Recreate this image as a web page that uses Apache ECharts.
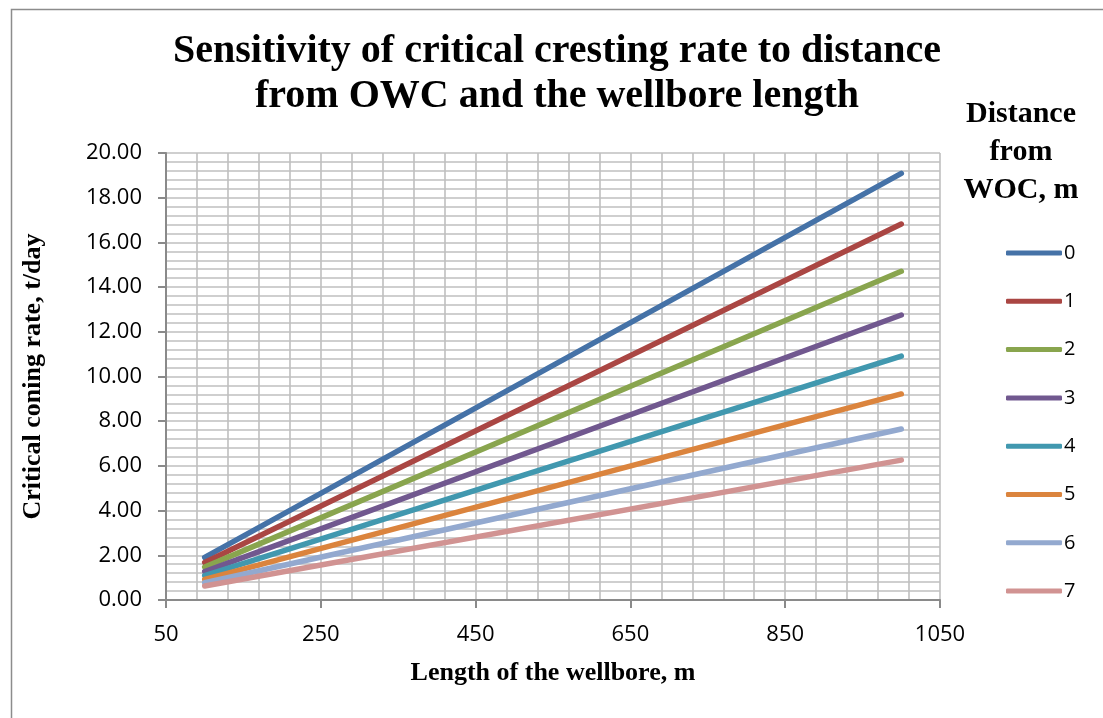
<!DOCTYPE html>
<html>
<head>
<meta charset="utf-8">
<script src="https://cdn.jsdelivr.net/npm/echarts@6/dist/echarts.min.js"></script>
<style>
  html, body { margin: 0; padding: 0; background: #ffffff; }
  #chart { width: 1103px; height: 718px; }
</style>
</head>
<body>
<div id="chart"></div>
<script>
// Wellbore length (m) at the start and end of each computed line
const wellboreLength = [100, 1000];

// Distance from WOC (m) — one series per distance
const distanceNames = ['0', '1', '2', '3', '4', '5', '6', '7'];

// Critical coning rate (t/day) for each distance, at the lengths above
const rateD0 = [1.91, 19.09];
const rateD1 = [1.68, 16.82];
const rateD2 = [1.47, 14.71];
const rateD3 = [1.27, 12.75];
const rateD4 = [1.09, 10.91];
const rateD5 = [0.92, 9.22];
const rateD6 = [0.77, 7.65];
const rateD7 = [0.63, 6.26];

const rateSeries = [rateD0, rateD1, rateD2, rateD3, rateD4, rateD5, rateD6, rateD7];

const lineColors = ['#4572A7', '#AA4643', '#89A54E', '#71588F', '#4198AF', '#DB843D', '#93A9CF', '#D19392'];

const serifFont = '"Liberation Serif", "Times New Roman", serif';
const sansFont = '"Open Sans", "Noto Sans", sans-serif';
const gridColor = '#bfbfbf';
const axisColor = '#8a8a8a';

const chart = echarts.init(document.getElementById('chart'), null, { renderer: 'canvas' });

const series = rateSeries.map((vals, i) => ({
  name: distanceNames[i],
  type: 'line',
  symbol: 'none',
  showSymbol: false,
  color: lineColors[i],
  lineStyle: { width: 5.5, color: lineColors[i], cap: 'round', join: 'round' },
  data: wellboreLength.map((x, j) => [x, vals[j]]),
  z: 3
}));

chart.setOption({
  backgroundColor: '#ffffff',
  animation: false,
  title: [
    {
      text: 'Sensitivity of critical cresting rate to distance\nfrom OWC and the wellbore length',
      left: 557,
      top: 29,
      padding: 0,
      textAlign: 'center',
      textStyle: { fontFamily: serifFont, fontWeight: 'bold', fontSize: 40, lineHeight: 45, color: '#000000' }
    },
    {
      text: 'Distance\nfrom\nWOC, m',
      left: 1021,
      top: 95,
      padding: 0,
      textAlign: 'center',
      textStyle: { fontFamily: serifFont, fontWeight: 'bold', fontSize: 30, lineHeight: 38, color: '#000000' }
    }
  ],
  legend: {
    orient: 'vertical',
    left: 1006,
    top: 243,
    padding: 0,
    icon: 'roundRect',
    itemWidth: 56,
    itemHeight: 5,
    itemGap: 28.3,
    data: distanceNames,
    textStyle: { fontFamily: sansFont, fontSize: 20, lineHeight: 20, color: '#000000', padding: [0, 0, 0, -3] }
  },
  grid: { left: 166, right: 163, top: 153, bottom: 118 },
  xAxis: {
    type: 'value',
    min: 50,
    max: 1050,
    interval: 200,
    name: 'Length of the wellbore, m',
    nameLocation: 'middle',
    nameGap: 60,
    nameTextStyle: { fontFamily: serifFont, fontWeight: 'bold', fontSize: 26, color: '#000000' },
    axisLine: { show: true, lineStyle: { color: axisColor, width: 2 } },
    axisTick: { show: true, length: 8, lineStyle: { color: axisColor, width: 2 } },
    axisLabel: { margin: 24, fontFamily: sansFont, fontSize: 22, color: '#000000', formatter: v => String(v) },
    splitLine: { show: true, lineStyle: { color: gridColor, width: 1.6 } },
    minorTick: { show: false, splitNumber: 5 },
    minorSplitLine: { show: true, lineStyle: { color: gridColor, width: 1.6 } }
  },
  yAxis: {
    type: 'value',
    min: 0,
    max: 20,
    interval: 2,
    name: 'Critical coning rate, t/day',
    nameLocation: 'middle',
    nameGap: 120,
    nameTextStyle: { fontFamily: serifFont, fontWeight: 'bold', fontSize: 26, color: '#000000' },
    axisLine: { show: true, lineStyle: { color: axisColor, width: 2 } },
    axisTick: { show: true, length: 8, lineStyle: { color: axisColor, width: 2 } },
    axisLabel: {
      margin: 24,
      fontFamily: sansFont,
      fontSize: 22,
      color: '#000000',
      formatter: v => v.toFixed(2)
    },
    splitLine: { show: true, lineStyle: { color: gridColor, width: 1.6 } },
    minorTick: { show: false, splitNumber: 5 },
    minorSplitLine: { show: true, lineStyle: { color: gridColor, width: 1.6 } }
  },
  graphic: [
    {
      type: 'rect',
      left: 9,
      top: 7,
      shape: { x: 0, y: 0, width: 1200, height: 800 },
      style: { fill: 'none', stroke: '#8c8c8c', lineWidth: 1.5 },
      silent: true,
      z: -1
    }
  ],
  series: series
});
</script>
</body>
</html>
